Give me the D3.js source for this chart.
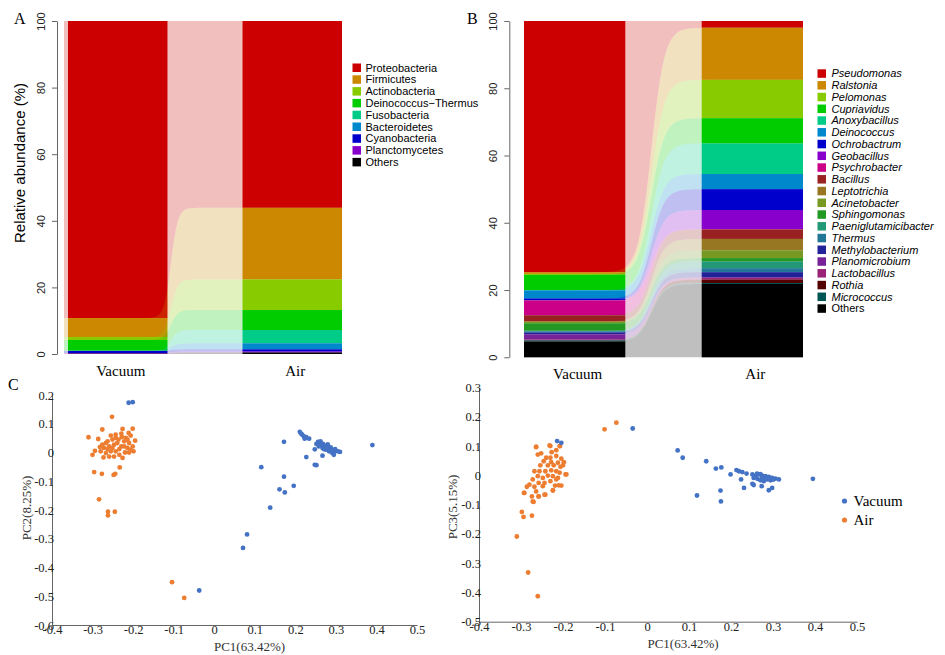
<!DOCTYPE html>
<html>
<head>
<meta charset="utf-8">
<style>
  body { margin: 0; background: #fff; }
  svg { display: block; }
  .sans { font-family: "Liberation Sans", Arial, sans-serif; }
  .serif { font-family: "Liberation Serif", "Times New Roman", serif; }
</style>
</head>
<body>
<svg id="fig" width="945" height="655"></svg>
<script src="https://d3js.org/d3.v7.min.js"></script>
<script>
// ---- data ----
const groups = ["Vacuum", "Air"];
const abundanceTicks = [0, 20, 40, 60, 80, 100];

const phyla = ["Proteobacteria", "Firmicutes", "Actinobacteria", "Deinococcus\u2212Thermus",
  "Fusobacteria", "Bacteroidetes", "Cyanobacteria", "Planctomycetes", "Others"];
const phylaColors = ["#cc0000", "#cc8800", "#88cc00", "#00cc00", "#00cc88",
  "#0088cc", "#0000cc", "#8800cc", "#000000"];
const phylaVacuum = [89.2, 5.7, 0.9, 3.2, 0.05, 0.05, 0.6, 0.2, 0.1];
const phylaAir = [56.1, 21.5, 9.2, 6.0, 4.0, 1.8, 0.65, 0.3, 0.45];

const genera = ["Pseudomonas", "Ralstonia", "Pelomonas", "Cupriavidus", "Anoxybacillus",
  "Deinococcus", "Ochrobactrum", "Geobacillus", "Psychrobacter", "Bacillus", "Leptotrichia",
  "Acinetobacter", "Sphingomonas", "Paeniglutamicibacter", "Thermus", "Methylobacterium",
  "Planomicrobium", "Lactobacillus", "Rothia", "Micrococcus", "Others"];
const generaColors = ["#cc0000", "#cc8800", "#88cc00", "#00cc00", "#00cc88", "#0088cc",
  "#0000cc", "#8800cc", "#cc0088", "#992222", "#997722", "#779922", "#229922", "#229977",
  "#227799", "#222299", "#772299", "#992277", "#550000", "#005555", "#000000"];
const generaVacuum = [74.7, 0.5, 0.3, 4.5, 0.1, 2.4, 0.5, 0.1, 4.4, 1.8, 0.2,
  0.4, 2.2, 0.2, 0.3, 0.6, 1.5, 0.2, 0.1, 0.3, 4.7];
const generaAir = [2.0, 15.5, 11.4, 7.5, 9.1, 4.5, 6.2, 5.7, 0.1, 2.8, 3.4,
  2.3, 1.0, 2.0, 1.2, 1.5, 0.2, 0.5, 1.0, 0.3, 21.8];

const pcTicksX = [-0.4, -0.3, -0.2, -0.1, 0, 0.1, 0.2, 0.3, 0.4, 0.5];
const pc2Ticks = [-0.6, -0.5, -0.4, -0.3, -0.2, -0.1, 0, 0.1, 0.2];
const pc3Ticks = [-0.5, -0.4, -0.3, -0.2, -0.1, 0, 0.1, 0.2, 0.3];

// [PC1, PC2]
const pc12Vacuum = [[-0.211,0.173],[-0.201,0.175],[0.172,0.037],[0.116,-0.051],[0.172,-0.084],
  [0.161,-0.128],[0.174,-0.139],[0.196,-0.116],[0.138,-0.192],[0.081,-0.285],[0.071,-0.332],
  [-0.037,-0.480],[0.390,0.026],[0.227,-0.016],[0.248,-0.043],[0.252,-0.044],[0.211,0.072],
  [0.217,0.062],[0.221,0.056],[0.223,0.048],[0.227,0.053],[0.234,0.048],[0.214,0.066],
  [0.248,0.011],[0.267,-0.011],[0.256,0.037],[0.262,0.039],[0.260,0.027],[0.268,0.030],
  [0.273,0.021],[0.277,0.025],[0.281,0.016],[0.285,0.013],[0.289,0.010],[0.293,0.006],
  [0.297,0.004],[0.301,0.006],[0.305,0.004],[0.310,0.002],[0.291,-0.002],[0.295,-0.008],
  [0.283,0.004],[0.275,0.010],[0.267,0.016],[0.258,0.021],[0.278,0.018],[0.287,0.018],
  [0.264,0.030],[0.270,0.012],[0.280,0.028],[0.298,0.012],[0.252,0.030]];
const pc12Air = [[-0.252,0.124],[-0.310,0.053],[-0.276,0.080],[-0.286,0.047],[-0.294,0.006],
  [-0.300,-0.008],[-0.273,-0.017],[-0.296,-0.068],[-0.277,-0.074],[-0.248,-0.078],[-0.244,-0.074],
  [-0.233,-0.052],[-0.284,-0.163],[-0.262,-0.206],[-0.262,-0.219],[-0.245,-0.206],[-0.201,0.083],
  [-0.195,0.041],[-0.199,0.004],[-0.104,-0.451],[-0.074,-0.506],
  [-0.226,0.082],[-0.211,0.068],[-0.206,0.059],[-0.218,0.051],[-0.229,0.066],[-0.243,0.062],
  [-0.255,0.059],[-0.263,0.039],[-0.251,0.045],[-0.236,0.045],[-0.222,0.039],[-0.210,0.033],
  [-0.201,0.021],[-0.214,0.016],[-0.229,0.021],[-0.247,0.027],[-0.259,0.021],[-0.272,0.016],
  [-0.280,0.004],[-0.267,-0.002],[-0.255,0.004],[-0.243,0.004],[-0.234,-0.008],[-0.220,0.000],
  [-0.210,0.000],[-0.206,0.010],[-0.259,-0.014],[-0.247,-0.014],[-0.226,-0.019],[-0.239,0.033],
  [-0.251,0.016],[-0.222,0.021],[-0.267,0.033],[-0.276,0.027],[-0.214,0.045],[-0.234,0.012],
  [-0.263,0.012],[-0.282,0.019],[-0.243,0.051],[-0.228,0.054]];

// [PC1, PC3]
const pc13Vacuum = [[-0.214,0.117],[-0.204,0.111],[-0.034,0.160],[0.073,0.085],[0.085,0.060],
  [0.141,0.048],[0.164,0.023],[0.177,0.027],[0.199,0.003],[0.119,-0.069],[0.175,-0.052],
  [0.176,-0.089],[0.395,-0.012],[0.224,-0.014],[0.231,-0.043],[0.251,-0.029],[0.254,-0.033],
  [0.273,-0.037],[0.290,-0.051],[0.298,-0.043],[0.213,0.018],[0.219,0.014],[0.227,0.011],
  [0.237,0.006],[0.251,0.003],[0.258,-0.003],[0.266,0.003],[0.274,-0.001],[0.282,-0.003],
  [0.290,-0.005],[0.298,-0.009],[0.306,-0.011],[0.314,-0.014],[0.263,-0.012],[0.270,-0.017],
  [0.278,-0.020],[0.286,-0.014],[0.294,-0.017],[0.254,-0.009],[0.274,-0.009],[0.282,-0.012],
  [0.262,0.006],[0.270,0.004],[0.300,-0.015]];
const pc13Air = [[-0.310,-0.209],[-0.283,-0.332],[-0.260,-0.413],[-0.298,-0.125],[-0.294,-0.142],
  [-0.274,-0.138],[-0.293,-0.060],[-0.270,-0.091],[-0.101,0.157],[-0.073,0.180],[-0.264,0.096],
  [-0.230,0.100],[-0.207,0.100],[-0.194,0.003],[-0.210,-0.034],[-0.224,-0.051],[-0.244,-0.066],
  [-0.258,-0.072],
  [-0.264,0.098],[-0.232,0.102],[-0.208,0.100],[-0.260,0.071],[-0.252,0.075],[-0.227,0.079],
  [-0.216,0.086],[-0.240,0.060],[-0.230,0.060],[-0.216,0.066],[-0.204,0.057],[-0.198,0.045],
  [-0.212,0.043],[-0.228,0.045],[-0.246,0.048],[-0.254,0.034],[-0.236,0.034],[-0.222,0.034],
  [-0.206,0.029],[-0.200,0.034],[-0.268,0.014],[-0.256,0.014],[-0.242,0.014],[-0.228,0.017],
  [-0.216,0.014],[-0.208,0.009],[-0.192,0.003],[-0.260,-0.003],[-0.248,-0.009],[-0.236,-0.001],
  [-0.224,-0.003],[-0.212,-0.009],[-0.272,-0.014],[-0.258,-0.026],[-0.244,-0.026],[-0.230,-0.020],
  [-0.216,-0.014],[-0.280,-0.032],[-0.286,-0.039],[-0.268,-0.039],[-0.248,-0.037],[-0.219,-0.035],
  [-0.204,-0.035],[-0.264,-0.055],[-0.292,-0.060],[-0.274,-0.072],[-0.258,-0.072],[-0.242,-0.066],
  [-0.224,-0.052],[-0.272,-0.089]];

const vacColor = "#4472c4", airColor = "#ed7d31";

const svg = d3.select("#fig");

// ---- stacked bars with ribbons ----
function alluvial(o) {
  const g = svg.append("g");
  const y = d3.scaleLinear().domain([0, 100]).range([o.bottom, o.top]);
  const x = d3.scaleBand().domain(groups).range([o.left, o.right]).paddingInner(0.43);

  // stack from the top: first taxon starts at 100
  const bounds = vals => {
    const tot = d3.sum(vals);
    let acc = 100;
    return vals.map(v => { const t = acc; acc -= v / tot * 100; return [Math.max(acc, 0), t]; });
  };
  const bv = bounds(o.vac), ba = bounds(o.air);

  groups.forEach((grp, gi) => {
    g.append("g").selectAll("rect").data(gi ? ba : bv).join("rect")
      .attr("x", x(grp)).attr("width", x.bandwidth())
      .attr("y", d => y(d[1])).attr("height", d => y(d[0]) - y(d[1]))
      .attr("fill", (d, i) => o.colors[i]);
  });

  const gapL = x("Vacuum") + x.bandwidth();
  const cx = gapL + o.shift;
  const f = t => 1 / (1 + Math.exp(-(t - cx) / o.spread));
  const xs = d3.range(x("Vacuum") - o.lead, x("Air") + x.bandwidth() + 0.5, 0.5);
  g.append("g").selectAll("path").data(d3.range(o.names.length)).join("path")
    .attr("d", i => d3.area()
      .x(t => t)
      .y0(t => y(bv[i][0] + (ba[i][0] - bv[i][0]) * f(t)))
      .y1(t => y(bv[i][1] + (ba[i][1] - bv[i][1]) * f(t)))(xs))
    .attr("fill", i => o.colors[i])
    .attr("fill-opacity", 0.25);

  const ax = g.append("g").attr("transform", `translate(${o.axisX},0)`)
    .call(d3.axisLeft(y).tickValues(abundanceTicks).tickSize(5).tickSizeOuter(0));
  ax.select(".domain").attr("stroke", "#666");
  ax.selectAll(".tick line").attr("stroke", "#666");
  ax.selectAll(".tick text")
    .attr("class", "sans").attr("font-size", 11).attr("fill", "#222")
    .attr("x", null).attr("dy", null).attr("text-anchor", "middle")
    .attr("transform", "translate(-12,0) rotate(-90)");
  ax.attr("font-family", null);

  g.append("g").selectAll("text").data(groups).join("text")
    .attr("class", "serif").attr("font-size", 15).attr("text-anchor", "middle")
    .attr("x", d => x(d) + x.bandwidth() / 2 + 3).attr("y", o.bottom + 22)
    .text(d => d);

  g.append("text").attr("class", "serif").attr("font-size", 16)
    .attr("x", o.letterX).attr("y", 24).text(o.letter);

  if (o.title) {
    g.append("text").attr("class", "sans").attr("font-size", 15)
      .attr("text-anchor", "middle")
      .attr("transform", `translate(25,163) rotate(-90)`)
      .text(o.title);
  }

  const lg = g.append("g").attr("transform", `translate(${o.legendX},${o.legendY})`);
  const row = lg.selectAll("g").data(o.names).join("g")
    .attr("transform", (d, i) => `translate(0,${i * o.legendStep})`);
  row.append("rect").attr("x", 0).attr("y", -4).attr("width", 8.5).attr("height", 8.5)
    .attr("fill", (d, i) => o.colors[i]);
  row.append("text").attr("class", "sans").attr("font-size", 11)
    .attr("x", o.legendText).attr("y", 4)
    .attr("font-style", d => (o.italic && d !== "Others") ? "italic" : null)
    .text(d => d);
}

alluvial({
  left: 68, right: 342, top: 21, bottom: 354, axisX: 57,
  names: phyla, colors: phylaColors, vac: phylaVacuum, air: phylaAir,
  shift: 3.5, spread: 3.5, lead: 4,
  letter: "A", letterX: 14, title: "Relative abundance (%)",
  legendX: 352.5, legendY: 67.5, legendStep: 11.8, legendText: 13, italic: false
});
alluvial({
  left: 524, right: 803, top: 21, bottom: 357.3, axisX: 509.3,
  names: genera, colors: generaColors, vac: generaVacuum, air: generaAir,
  shift: 26, spread: 6.7, lead: 0,
  letter: "B", letterX: 467, title: null,
  legendX: 817.5, legendY: 73.3, legendStep: 11.75, legendText: 14, italic: true
});

// ---- PCA scatter plots ----
const fmt = v => Math.abs(v) < 1e-9 ? "0" : d3.format(".1f")(v).replace("\u2212", "-");

function scatter(o) {
  const g = svg.append("g");
  const x = d3.scaleLinear().domain([-0.4, 0.5]).range([o.left, o.right]);
  const y = d3.scaleLinear().domain(o.yDomain).range([o.bottom, o.top]);

  const axStyle = sel => {
    sel.attr("font-family", null).attr("font-size", null);
    sel.select(".domain").attr("stroke", "#666");
    sel.selectAll(".tick text").attr("class", "serif").attr("font-size", 12.5).attr("fill", "#222");
  };
  g.append("g").attr("transform", `translate(0,${o.bottom})`)
    .call(d3.axisBottom(x).tickValues(pcTicksX).tickFormat(fmt).tickSize(0).tickPadding(0).tickSizeOuter(0))
    .call(axStyle);
  g.append("g").attr("transform", `translate(${o.left},0)`)
    .call(d3.axisLeft(y).tickValues(o.yTicks).tickFormat(fmt).tickSize(0).tickPadding(-2).tickSizeOuter(0))
    .call(axStyle);

  g.append("g").selectAll("circle").data(o.air).join("circle")
    .attr("cx", d => x(d[0])).attr("cy", d => y(d[1])).attr("r", 2.4).attr("fill", airColor);
  g.append("g").selectAll("circle").data(o.vac).join("circle")
    .attr("cx", d => x(d[0])).attr("cy", d => y(d[1])).attr("r", 2.4).attr("fill", vacColor);

  g.append("text").attr("class", "serif").attr("font-size", 13).attr("text-anchor", "middle")
    .attr("x", (o.left + o.right) / 2 + 15).attr("y", o.bottom + 26).attr("fill", "#333")
    .text("PC1(63.42%)");
  g.append("text").attr("class", "serif").attr("font-size", 13).attr("text-anchor", "middle")
    .attr("fill", "#333")
    .attr("transform", `translate(${o.yTitleX},${o.yTitleY}) rotate(-90)`)
    .text(o.yTitle);
}

scatter({ left: 52, right: 417, top: 395, bottom: 625, yDomain: [-0.6, 0.2], yTicks: pc2Ticks,
  vac: pc12Vacuum, air: pc12Air, yTitle: "PC2(8.25%)", yTitleX: 31, yTitleY: 508 });
scatter({ left: 479, right: 857, top: 387.5, bottom: 621.7, yDomain: [-0.5, 0.3], yTicks: pc3Ticks,
  vac: pc13Vacuum, air: pc13Air, yTitle: "PC3(5.15%)", yTitleX: 457, yTitleY: 507 });

svg.append("text").attr("class", "serif").attr("font-size", 16)
  .attr("x", 8).attr("y", 390).text("C");

const leg = svg.append("g").selectAll("g")
  .data([["Vacuum", vacColor], ["Air", airColor]]).join("g")
  .attr("transform", (d, i) => `translate(844.5,${501 + i * 19})`);
leg.append("circle").attr("r", 2.6).attr("fill", d => d[1]);
leg.append("text").attr("class", "serif").attr("font-size", 15)
  .attr("x", 9).attr("y", 5).text(d => d[0]);
</script>
</body>
</html>
